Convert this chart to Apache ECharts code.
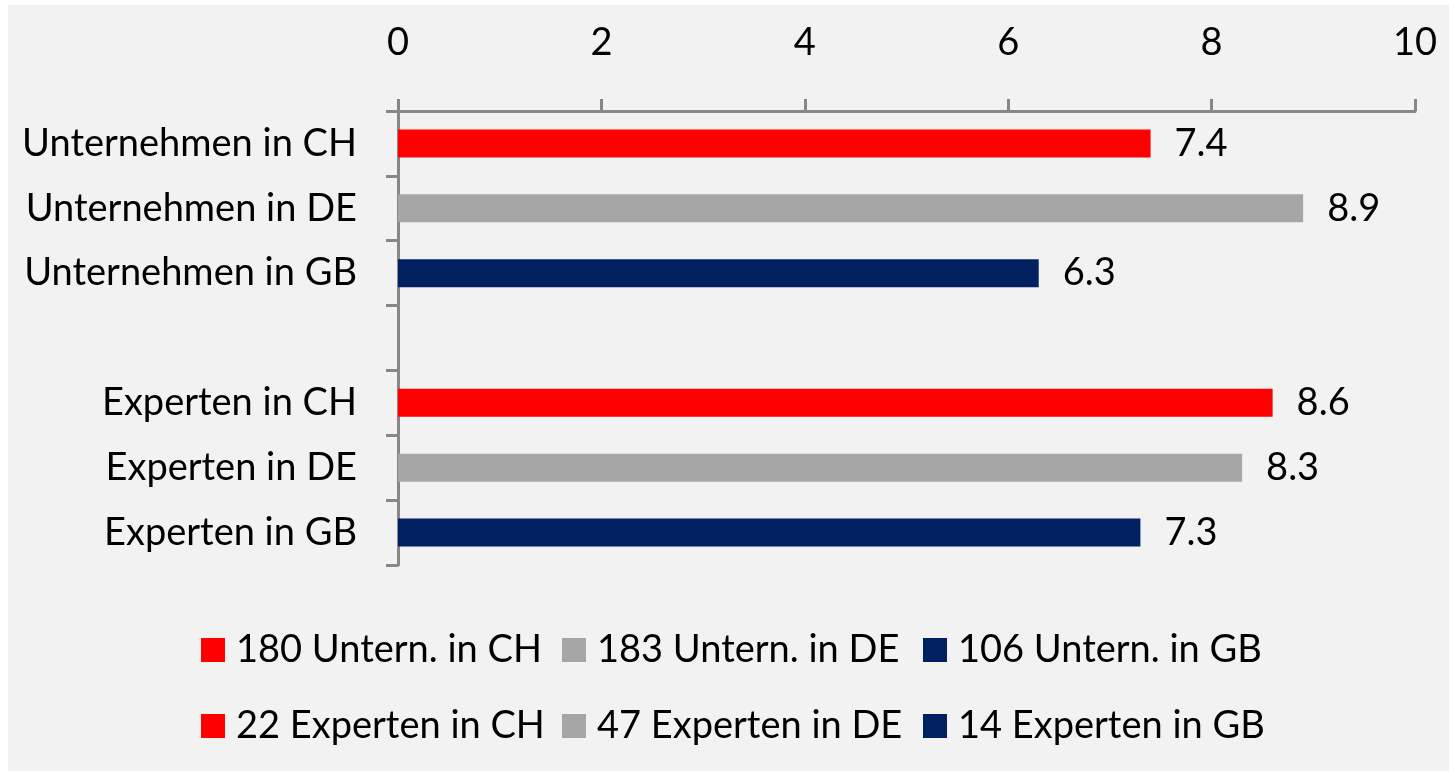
<!DOCTYPE html>
<html>
<head>
<meta charset="utf-8">
<script src="https://cdn.jsdelivr.net/npm/echarts@6/dist/echarts.min.js"></script>
<style>
    html, body { margin: 0; padding: 0; background: #ffffff; }
    #chart1 { position: absolute; left: 8px; top: 5px; width: 1441px; height: 766px; background: #f2f2f2; }
</style>
</head>
<body>
<div id="chart1"></div>
<script>
// Kategorien (von oben nach unten), leere Zeile als Abstand
var categories = ['Unternehmen in CH', 'Unternehmen in DE', 'Unternehmen in GB', '', 'Experten in CH', 'Experten in DE', 'Experten in GB'];
var scores = [7.4, 8.9, 6.3, null, 8.6, 8.3, 7.3];
var seriesNames = ['180 Untern. in CH', '183 Untern. in DE', '106 Untern. in GB', '22 Experten in CH', '47 Experten in DE', '14 Experten in GB'];
var seriesRow = [0, 1, 2, 4, 5, 6];
var seriesColors = ['#ff0000', '#a6a6a6', '#002060', '#ff0000', '#a6a6a6', '#002060'];
var xMin = 0, xMax = 10, xStep = 2;

var FONT = 'Lato';
var FS = 38;

var buildSeries = function () {
    var list = [];
    for (var i = 0; i < seriesNames.length; i++) {
        var data = [];
        for (var j = 0; j < categories.length; j++) {
            data.push(j === seriesRow[i] ? scores[j] : '-');
        }
        list.push({
            name: seriesNames[i],
            type: 'bar',
            stack: 'all',
            barWidth: 28,
            data: data,
            itemStyle: { color: seriesColors[i] },
            label: {
                show: true,
                position: 'right',
                distance: 24,
                color: '#000',
                fontFamily: FONT,
                fontSize: FS,
                formatter: function (p) { return p.value.toFixed(1); }
            },
            emphasis: { disabled: true }
        });
    }
    return list;
};

// eine Legendenspalte je Land
var buildLegend = function (col, left) {
    return {
        orient: 'vertical',
        left: left,
        top: 626,
        padding: 0,
        itemGap: 38,
        itemWidth: 24,
        itemHeight: 24,
        icon: 'rect',
        selectedMode: false,
        data: [seriesNames[col], seriesNames[col + 3]],
        textStyle: { fontFamily: FONT, fontSize: FS, lineHeight: 38, color: '#000', padding: [0, 0, 0, 6] }
    };
};

var myChart = echarts.init(document.getElementById('chart1'));
var option = {
    animation: false,
    grid: { left: 390, right: 34, top: 106, bottom: 206, containLabel: false },
    legend: [buildLegend(0, 193), buildLegend(1, 554), buildLegend(2, 915)],
    xAxis: {
        type: 'value',
        position: 'top',
        min: xMin,
        max: xMax,
        interval: xStep,
        axisLine: { show: true, lineStyle: { color: '#878787', width: 3 } },
        axisTick: { show: true, length: 12, lineStyle: { color: '#878787', width: 3 } },
        axisLabel: { margin: 49, color: '#000', fontFamily: FONT, fontSize: FS },
        splitLine: { show: false }
    },
    yAxis: {
        type: 'category',
        inverse: true,
        data: categories,
        axisLine: { show: true, lineStyle: { color: '#878787', width: 3 } },
        axisTick: { show: true, length: 12, lineStyle: { color: '#878787', width: 3 } },
        axisLabel: { margin: 41, color: '#000', fontFamily: FONT, fontSize: FS }
    },
    series: buildSeries()
};
myChart.setOption(option);
</script>
</body>
</html>
